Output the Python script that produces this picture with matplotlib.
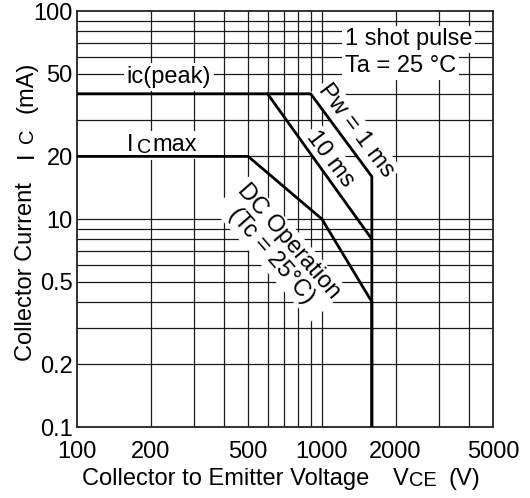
import matplotlib
matplotlib.use("Agg")
import matplotlib.pyplot as plt
from matplotlib.ticker import NullFormatter, NullLocator

plt.rcParams['font.family'] = ['Liberation Sans', 'DejaVu Sans']

# safe operating area curves (VCE in V, IC as plotted on the axis)
peak_v = [100, 900, 1600, 1600]      # ic(peak) + Pw = 1 ms
peak_i = [40, 40, 16, 1]
pw10_v = [600, 1600]                 # Pw = 10 ms
pw10_i = [40, 8]
dc_v = [100, 500, 1000, 1600, 1600]  # Icmax + DC operation
dc_i = [20, 20, 10, 4, 1]

x_ticks = [100, 200, 500, 1000, 2000, 5000]
x_ticklabels = ['100', '200', '500', '1000', '2000', '5000']
y_ticks = [1, 2, 5, 10, 20, 50, 100]
y_ticklabels = ['0.1', '0.2', '0.5', '10', '20', '50', '100']
x_grid = [200, 300, 400, 500, 600, 700, 800, 900, 1000, 2000, 3000, 4000]
y_grid = [2, 3, 4, 5, 6, 7, 8, 9, 10, 20, 30, 40, 50, 60, 70, 80, 90]

W, H = 530, 498
fs = 17
sub = fs * 0.85

fig = plt.figure(figsize=(W / 100, H / 100), dpi=100)
ax = fig.add_axes([77 / W, 1 - 427 / H, 416 / W, 416 / H])
ax.set_xscale('log')
ax.set_yscale('log')
ax.set_xlim(100, 5000)
ax.set_ylim(1, 100)


def put(x, y, s, **kw):
    # place text by pixel position (from the top left corner of the figure)
    kw.setdefault('fontsize', fs)
    return ax.text(x / W, 1 - y / H, s, transform=fig.transFigure, **kw)


for gx in x_grid:
    ax.axvline(gx, color='#1a1a1a', lw=0.9, zorder=1)
for gy in y_grid:
    ax.axhline(gy, color='#1a1a1a', lw=0.9, zorder=1)

ax.plot(peak_v, peak_i, color='black', lw=2, zorder=5, solid_joinstyle='miter')
ax.plot(pw10_v, pw10_i, color='black', lw=2, zorder=5)
ax.plot(dc_v, dc_i, color='black', lw=2, zorder=5, solid_joinstyle='miter')

box = dict(facecolor='white', edgecolor='none', pad=2)
put(169, 77, 'ic(peak)', ha='center', va='center', bbox=box, zorder=3)
put(126.5, 151, 'I', va='baseline', bbox=box, zorder=3)
put(137.0, 153.3, 'C', fontsize=sub, va='baseline', bbox=box, zorder=3)
put(152.5, 151, 'max', va='baseline', bbox=box, zorder=3)

put(345, 45.5, '1 shot pulse', va='baseline', bbox=box, zorder=3)
put(345, 72.5, 'Ta = 25 °C', va='baseline', bbox=box, zorder=3)

put(356, 131, 'Pw = 1 ms', ha='center', va='center', rotation=-53,
    rotation_mode='anchor', bbox=box, zorder=3)
put(330, 159, '10 ms', ha='center', va='center', rotation=-53,
    rotation_mode='anchor', bbox=box, zorder=3)
put(280, 249, 'DC Operation\n(Tc = 25°C)', ha='center', va='center',
    rotation=-49, rotation_mode='anchor', multialignment='center',
    linespacing=1.0, bbox=box, zorder=3)

ax.set_xticks(x_ticks)
ax.set_xticklabels(x_ticklabels)
ax.set_yticks(y_ticks)
ax.set_yticklabels(y_ticklabels)
ax.xaxis.set_minor_locator(NullLocator())
ax.yaxis.set_minor_locator(NullLocator())
ax.xaxis.set_minor_formatter(NullFormatter())
ax.yaxis.set_minor_formatter(NullFormatter())
ax.tick_params(axis='both', length=0, labelsize=fs)
ax.tick_params(axis='x', pad=10)
ax.tick_params(axis='y', pad=3)

for s in ax.spines.values():
    s.set_linewidth(1.3)
    s.set_color('#222222')

# axis titles, built in pieces so the subscripts sit like the original
put(82, 484.5, 'Collector to Emitter Voltage', va='baseline')
put(393, 484.5, 'V', va='baseline')
put(408.5, 486, 'CE', fontsize=sub, va='baseline')
put(449, 484.5, '(V)', va='baseline')

rot = dict(rotation=90, rotation_mode='anchor', va='baseline', ha='left')
put(32.5, 361, 'Collector Current', **rot)
put(32.5, 158, 'I', **rot)
put(32.5, 143, 'C', fontsize=sub, **rot)
put(32.5, 113, '(mA)', **rot)

fig.savefig('out.png', dpi=100)
